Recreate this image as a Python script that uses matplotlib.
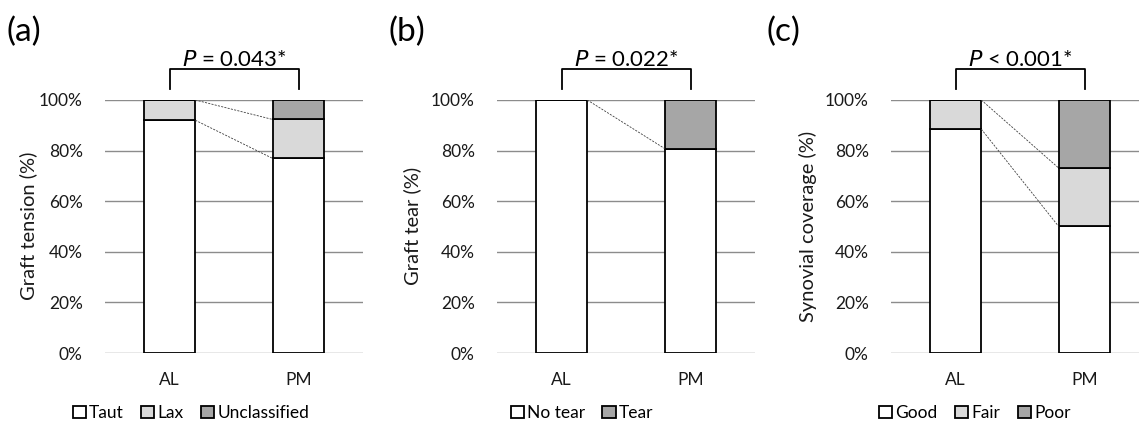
import matplotlib.pyplot as plt
import numpy as np

plt.rcParams['font.family'] = ['Lato', 'DejaVu Sans']

groups = ["AL", "PM"]

# (a) graft tension
tension_labels = ["Taut", "Lax", "Unclassified"]
tension_values = [[92.0, 8.0, 0.0], [76.9, 15.4, 7.7]]
# (b) graft tear
tear_labels = ["No tear", "Tear"]
tear_values = [[100.0, 0.0], [80.8, 19.2]]
# (c) synovial coverage
coverage_labels = ["Good", "Fair", "Poor"]
coverage_values = [[88.5, 11.5, 0.0], [50.0, 23.1, 26.9]]

white, light, dark = "white", "#d9d9d9", "#a6a6a6"
panels = [
    ("(a)", "Graft tension (%)", tension_labels, tension_values,
     "= 0.043*", [white, light, dark]),
    ("(b)", "Graft tear (%)", tear_labels, tear_values,
     "= 0.022*", [white, dark]),
    ("(c)", "Synovial coverage (%)", coverage_labels, coverage_values,
     "< 0.001*", [white, light, dark]),
]

W, H = 1139, 423
fig = plt.figure(figsize=(W / 100, H / 100), dpi=100)

ax_left = [105, 497, 891]
ax_width = 258
ax_bottom = (H - 353) / H
ax_height = 253 / H
legend_cx = [191, 582, 975]
label_x = [6, 388, 766]
ylabel_x = [28, 412, 808]

bar_w = 0.4
x = np.arange(len(groups))

for i, (tag, ylab, labels, values, ptext, cols) in enumerate(panels):
    ax = fig.add_axes([ax_left[i] / W, ax_bottom, ax_width / W, ax_height])
    vals = np.array(values)
    bottoms = np.zeros(len(groups))
    handles = []
    for j, lab in enumerate(labels):
        h = ax.bar(x, vals[:, j], bar_w, bottom=bottoms, color=cols[j],
                   edgecolor="black", linewidth=1.3, zorder=3, label=lab)
        handles.append(h)
        bottoms = bottoms + vals[:, j]
    # series lines between AL and PM segment tops
    cum = np.cumsum(vals, axis=1)
    for j in range(len(labels) - 1):
        ax.plot([x[0] + bar_w / 2, x[1] - bar_w / 2], [cum[0, j], cum[1, j]],
                color="#404040", linestyle=(0, (2.5, 1.5)), linewidth=0.6,
                zorder=4)
    ax.set_xlim(-0.5, 1.5)
    ax.set_ylim(0, 100)
    ax.set_yticks(np.arange(0, 101, 20))
    ax.set_yticklabels([f"{v}%" for v in range(0, 101, 20)])
    ax.set_xticks(x)
    ax.set_xticklabels(groups)
    ax.grid(axis="y", color="#8c8c8c", linewidth=1.0, zorder=0)
    ax.set_axisbelow(True)
    for s in ax.spines.values():
        s.set_visible(False)
    ax.tick_params(axis="both", length=0, labelsize=12.5, colors="#1a1a1a")
    ax.tick_params(axis="y", pad=16)
    ax.tick_params(axis="x", pad=14)
    fig.text(ylabel_x[i] / W, (H - 226) / H, ylab, rotation=90,
             ha="center", va="center", fontsize=14.5, color="#1a1a1a")

    # significance bracket
    ax.plot([x[0], x[0], x[1], x[1]], [104.3, 112.3, 112.3, 104.3],
            color="black", linewidth=1.3, clip_on=False)
    ax.text(0.5, 115.8, r"$\it{P}$" + " " + ptext, ha="center", va="center",
            fontsize=16, clip_on=False)

    fig.text(label_x[i] / W, (H - 32) / H, tag, ha="left", va="center",
             fontsize=24)

    fig.legend(handles=handles, labels=labels, loc="center",
               bbox_to_anchor=(legend_cx[i] / W, (H - 413) / H),
               ncol=len(labels), frameon=False, fontsize=12.5,
               handlelength=0.75, handleheight=0.75, handletextpad=0.2,
               columnspacing=1.0, borderpad=0)

fig.savefig("out.png", dpi=100)
